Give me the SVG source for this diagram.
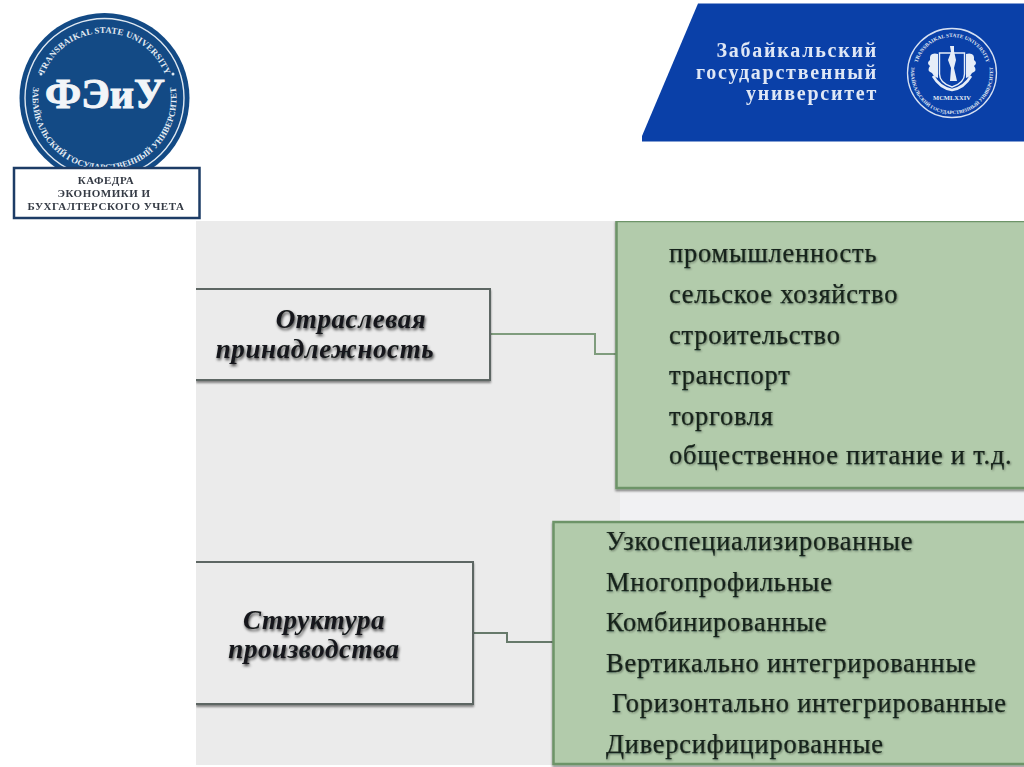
<svg xmlns="http://www.w3.org/2000/svg" width="1024" height="767" viewBox="0 0 1024 767">
<style>
.serif{font-family:"Liberation Serif","DejaVu Serif",serif}
.item{font-family:"Liberation Serif","DejaVu Serif",serif;font-size:26.4px;fill:#17241b;stroke:#17241b;stroke-width:.25px;letter-spacing:.8px;filter:url(#ishadow)}
.head{font-family:"Liberation Serif","DejaVu Serif",serif;font-size:27px;font-weight:bold;font-style:italic;fill:#14181a;text-anchor:middle;letter-spacing:.6px;filter:url(#tshadow)}
.box{fill:#ebebeb;stroke:#5d6664;stroke-width:2;filter:url(#bshadow)}
.green{fill:#b2cbab;stroke:#6d9468;stroke-width:2.5;filter:url(#bshadow)}
.conn{fill:none;stroke-width:2}
.k{font-family:"Liberation Serif","DejaVu Serif",serif;font-size:11px;font-weight:bold;fill:#343a44;text-anchor:middle;letter-spacing:.5px;filter:url(#tiny)}
.seal{font-family:"Liberation Serif","DejaVu Serif",serif;font-weight:bold;fill:#e4ecf4}
.ru{font-family:"Liberation Serif","DejaVu Serif",serif;font-size:20px;font-weight:bold;fill:#dfe7f5;text-anchor:end;letter-spacing:1.75px;filter:url(#tiny)}
.w{fill:#e6edf8}
</style>
<defs>
<filter id="tiny" x="-5%" y="-20%" width="110%" height="140%"><feGaussianBlur stdDeviation=".35"/></filter>
<filter id="ishadow" x="-5%" y="-30%" width="110%" height="170%"><feGaussianBlur in="SourceAlpha" stdDeviation="1.3"/><feOffset dx=".5" dy="1"/><feComponentTransfer><feFuncA type="linear" slope=".4"/></feComponentTransfer><feMerge><feMergeNode/><feMergeNode in="SourceGraphic"/></feMerge><feGaussianBlur stdDeviation=".35"/></filter>
<filter id="tshadow" x="-10%" y="-30%" width="120%" height="170%"><feGaussianBlur in="SourceAlpha" stdDeviation="1.6"/><feOffset dx="1" dy="2"/><feComponentTransfer><feFuncA type="linear" slope=".75"/></feComponentTransfer><feMerge><feMergeNode/><feMergeNode in="SourceGraphic"/></feMerge><feGaussianBlur stdDeviation=".3"/></filter>
<filter id="bshadow" x="-3%" y="-5%" width="106%" height="112%"><feGaussianBlur in="SourceAlpha" stdDeviation="1.2"/><feOffset dx="0" dy="1.500"/><feComponentTransfer><feFuncA type="linear" slope=".45"/></feComponentTransfer><feMerge><feMergeNode/><feMergeNode in="SourceGraphic"/></feMerge></filter>
<clipPath id="panel"><rect x="196" y="221" width="828" height="546"/></clipPath>
<path id="arcTop" d="M39.500 98A65 65 0 0 1 169.500 98"/>
<path id="arcBot" d="M34.300 82A72 72 0 1 0 174.700 82"/>
<path id="arcTop2" d="M916 73A36 36 0 0 1 988 73"/>
<path id="arcBot2" d="M911.800 65A41 41 0 1 0 992.200 65"/>
</defs>
<rect width="1024" height="767" fill="#fff"/>
<rect x="196" y="221" width="828" height="544" fill="#ebebeb"/>
<rect x="620" y="490" width="404" height="30" fill="#f1f1f3"/>

<g id="logo-feiu">
<circle cx="104.500" cy="98" r="85" fill="#134a85"/>
<circle cx="104.500" cy="98" r="79.500" fill="none" stroke="#dfe8f1" stroke-width="1.400"/>
<text class="seal" font-size="8.800" letter-spacing=".2"><textPath href="#arcTop" startOffset="50%" text-anchor="middle">TRANSBAIKAL STATE UNIVERSITY</textPath></text>
<text class="seal" font-size="8.600" letter-spacing=".1"><textPath href="#arcBot" startOffset="50%" text-anchor="middle">ЗАБАЙКАЛЬСКИЙ ГОСУДАРСТВЕННЫЙ УНИВЕРСИТЕТ</textPath></text>
<circle cx="41" cy="74" r="1.500" fill="#dfe8f1"/><circle cx="173" cy="74" r="1.500" fill="#dfe8f1"/>
<text class="serif" x="105" y="108" font-size="42" font-weight="bold" fill="#f2f5f8" stroke="#f2f5f8" stroke-width="1" text-anchor="middle" textLength="120" lengthAdjust="spacingAndGlyphs">ФЭиУ</text>
</g>
<g id="label-kafedra">
<rect x="14" y="168" width="185.500" height="50" fill="#fff" stroke="#1d3c66" stroke-width="2.500"/>
<text class="k" x="106" y="184">КАФЕДРА</text>
<text class="k" x="104" y="197">ЭКОНОМИКИ  И</text>
<text class="k" x="106" y="210">БУХГАЛТЕРСКОГО УЧЕТА</text>
</g>

<g id="logo-zabgu">
<path d="M698 3.500H1024V141.500H642L642 136Z" fill="#0a40a8"/>
<text class="ru" x="878" y="57">Забайкальский</text>
<text class="ru" x="878" y="78.500">государственный</text>
<text class="ru" x="878" y="100">университет</text>
<g id="emblem">
<circle cx="952" cy="73" r="44.500" fill="none" stroke="#d6e0f2" stroke-width="1.300"/>
<text class="seal" font-size="5.200" letter-spacing=".1"><textPath href="#arcTop2" startOffset="50%" text-anchor="middle">TRANSBAIKAL STATE UNIVERSITY</textPath></text>
<text class="seal" font-size="4.900" letter-spacing=".05"><textPath href="#arcBot2" startOffset="50%" text-anchor="middle">ЗАБАЙКАЛЬСКИЙ ГОСУДАРСТВЕННЫЙ УНИВЕРСИТЕТ</textPath></text>
<path d="M939.500 53H964.500V74Q964.500 83 952 87Q939.500 83 939.500 74Z" fill="#0a40a8" stroke="#e6edf8" stroke-width="1.400"/>
<path class="w" d="M950 46L954 46L954 51L956 60L954 68L957 81L950 81L951 68L948 60L951 52Z"/>
<path class="w" d="M938 54Q929 52 930 60Q926 63 930 66Q926 71 932 73Q934 77 938 78Z"/>
<path class="w" d="M966 54Q975 52 974 60Q978 63 974 66Q978 71 972 73Q970 77 966 78Z"/>
<path d="M933 76Q940 88 952 90Q964 88 971 76" fill="none" stroke="#e6edf8" stroke-width="2.600"/>
<text class="seal" x="952" y="100" font-size="6.500" text-anchor="middle">MCMLXXIV</text>
</g>
</g>

<g id="connectors">
<path class="conn" stroke="#7f9c7d" d="M491 334H595V354H617"/>
<path class="conn" stroke="#66796a" d="M474 633H507V642H553"/>
</g>

<g clip-path="url(#panel)">
<g id="node-otrasl">
<path class="box" d="M196 289H490V380H196"/>
<text class="head" x="351" y="328">Отраслевая</text>
<text class="head" x="325" y="358">принадлежность</text>
</g>
<g id="node-otrasl-list">
<rect class="green" x="616.500" y="221" width="420" height="267"/>
<text class="item" x="669" y="262">промышленность</text>
<text class="item" x="669" y="303">сельское хозяйство</text>
<text class="item" x="669" y="344">строительство</text>
<text class="item" x="669" y="384">транспорт</text>
<text class="item" x="669" y="425">торговля</text>
<text class="item" x="669" y="464">общественное питание и т.д.</text>
</g>
<g id="node-struct">
<path class="box" d="M196 562H473V704H196"/>
<text class="head" x="314" y="629">Структура</text>
<text class="head" x="314" y="658">производства</text>
</g>
<g id="node-struct-list">
<rect class="green" x="553.500" y="522" width="480" height="242"/>
<text class="item" x="606" y="550">Узкоспециализированные</text>
<text class="item" x="606" y="591">Многопрофильные</text>
<text class="item" x="606" y="631">Комбинированные</text>
<text class="item" x="606" y="672">Вертикально интегрированные</text>
<text class="item" x="612" y="712">Горизонтально интегрированные</text>
<text class="item" x="606" y="753">Диверсифицированные</text>
</g>
</g>
</svg>
